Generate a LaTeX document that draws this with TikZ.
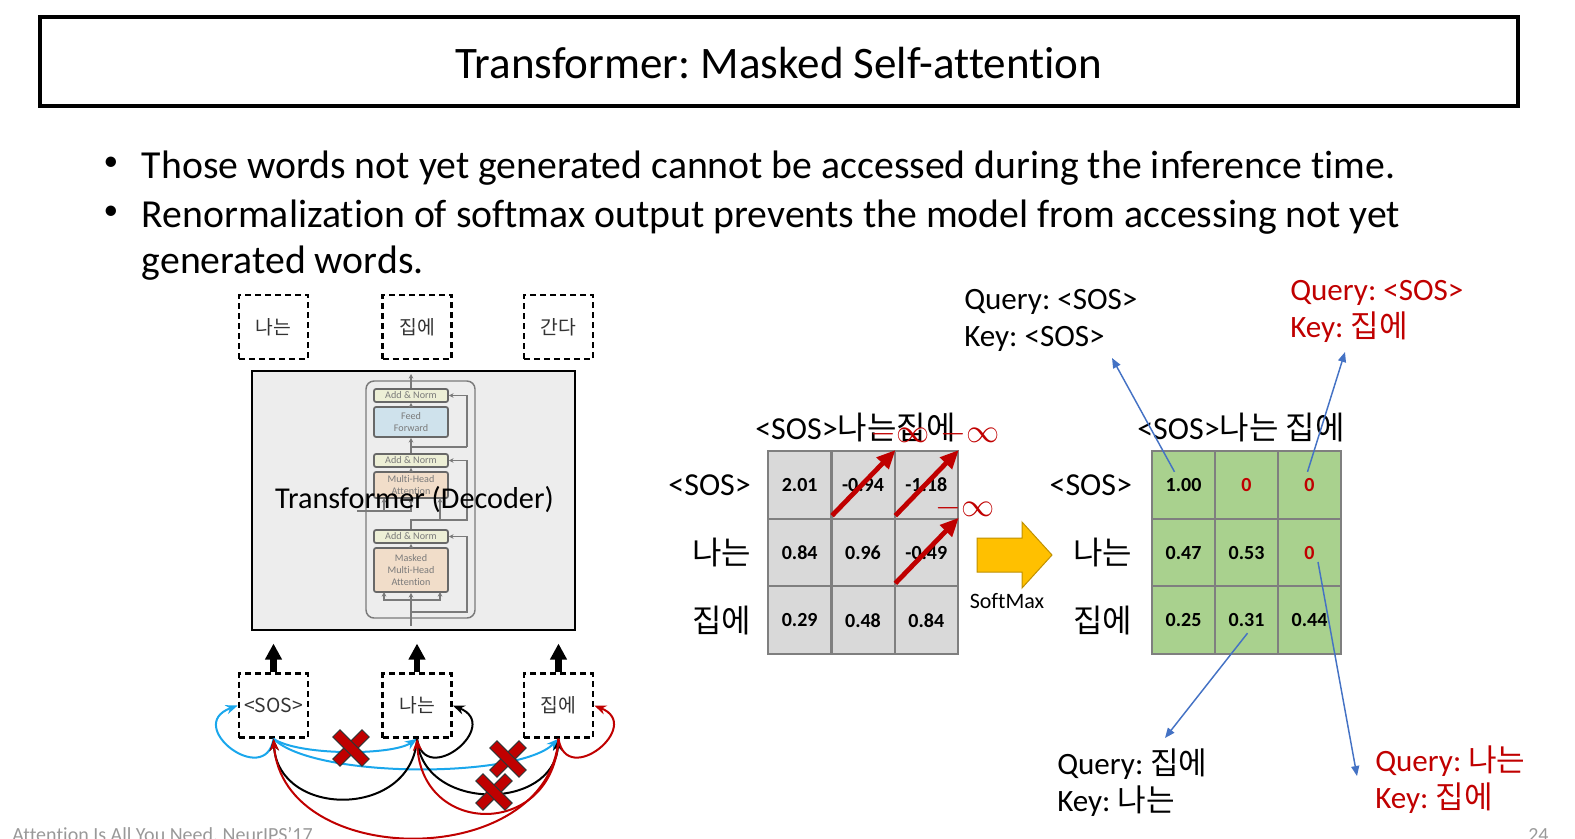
\documentclass[tikz,border=0pt]{standalone}
\usepackage{fontspec}
\setmainfont{Carlito}[Ligatures={TeX,NoCommon}]
\newfontfamily\kr{Noto Sans CJK KR}
\usetikzlibrary{arrows.meta}
\definecolor{maskred}{HTML}{C00000}
\definecolor{linkblue}{HTML}{4472C4}
\definecolor{loopblue}{HTML}{1AA7EC}
\definecolor{cellgray}{HTML}{D9D9D9}
\definecolor{cellgreen}{HTML}{A9D18E}
\definecolor{gridgray}{HTML}{7F7F7F}
\definecolor{softyellow}{HTML}{FFC000}
\definecolor{decgray}{HTML}{EDEDED}
\definecolor{sketchgray}{HTML}{7A7A7A}
\definecolor{normfill}{HTML}{EDEFD6}
\definecolor{fffill}{HTML}{CFE2EC}
\definecolor{attfill}{HTML}{F1DDC9}
\definecolor{footgray}{HTML}{999999}
\newcommand{\fsz}[2]{\fontsize{#1}{#2}\selectfont}
\frenchspacing

\begin{document}
\begin{tikzpicture}[x=0.75pt, y=-0.75pt,
  wordbox/.style={draw, line width=1.9pt, dash pattern=on 4.5pt off 3pt,
    minimum width=51.75pt, minimum height=48pt, inner sep=0pt,
    text=black!80, font=\kr\fsz{14.5}{16}},
  scorecell/.style={draw=gridgray, line width=1.5pt, minimum width=47.25pt,
    minimum height=50.75pt, inner sep=0pt, font=\bfseries\fsz{15}{18}},
  labeltext/.style={inner sep=0pt, font=\fsz{24}{28}},
  annot/.style={inner sep=0pt, align=left, font=\fsz{23.3}{27.75}},
  inftext/.style={inner sep=0pt, text=maskred, font=\fsz{25}{25}},
  linkarrow/.style={draw=linkblue, line width=1.1pt, -{Triangle[length=7.5pt,width=6pt]}},
  maskarrow/.style={draw=maskred, line width=3.6pt, -{Triangle[length=14pt,width=12pt]}},
  bigarrow/.style={line width=5pt, -{Triangle[length=12pt,width=12pt]}, shorten >=9.4pt},
  qsos/.style={draw=loopblue, line width=1.5pt, -{Stealth[length=9pt,width=7pt]}},
  qna/.style={draw=black, line width=1.5pt, -{Stealth[length=9pt,width=7pt]}},
  qjib/.style={draw=maskred, line width=1.5pt, -{Stealth[length=9pt,width=7pt]}},
  nobar/.style={draw=black!80, line width=0.75pt, fill=maskred, minimum width=31pt,
    minimum height=7.5pt, inner sep=0pt},
  layerline/.style={draw=sketchgray, line width=1.1pt},
  layerarrow/.style={layerline, -{Stealth[length=3.5pt,width=3.5pt]}},
  sketchbox/.style={draw=sketchgray!85!black, line width=1.3pt, rounded corners=1.5pt,
    minimum width=55.5pt, inner sep=0pt, align=center, text=sketchgray,
    font=\fsz{7.6}{9.2}},
  addnorm/.style={sketchbox, fill=normfill, minimum height=9.75pt}
]
  \useasboundingbox (0,0) rectangle (1575,839);

  % Title
  \draw[line width=3pt] (40,17) rectangle (1518,106);
  \node[anchor=base, inner sep=0pt, font=\fsz{33.8}{40}] (title) at (779,78.5)
    {Transformer: Masked Self-attention};

  % Bullets
  \node[inner sep=0pt, font=\fsz{22}{24}] (dot1) at (111,164) {\textbullet};
  \node[anchor=base west, inner sep=0pt, font=\fsz{29.8}{34}] (b1) at (141.6,178)
    {Those words not yet generated cannot be accessed during the inference time.};
  \node[inner sep=0pt, font=\fsz{22}{24}] (dot2) at (111,213) {\textbullet};
  \node[anchor=base west, inner sep=0pt, font=\fsz{29.8}{34}] (b2) at (141.6,227)
    {Renormalization of softmax output prevents the model from accessing not yet};
  \node[anchor=base west, inner sep=0pt, font=\fsz{29.8}{34}] (b2c) at (141.6,273)
    {generated words.};

  % Output words
  \node[wordbox] (out-na) at (273.5,327) {나는};
  \node[wordbox] (out-jib) at (417,327) {집에};
  \node[wordbox] (out-gan) at (558.5,327) {간다};

  % Decoder block
  \node[draw, line width=1.5pt, fill=decgray, minimum width=242.25pt,
    minimum height=194.25pt, inner sep=0pt] (dec) at (413.5,500.5) {};
  \draw[layerline, rounded corners=6pt] (366,381) rectangle (475,618);
  \node[addnorm] (an1) at (411,395.5) {Add \& Norm};
  \node[sketchbox, fill=fffill, minimum height=22.5pt] (ff) at (411,422) {Feed\\Forward};
  \node[addnorm] (an2) at (411,460.5) {Add \& Norm};
  \node[sketchbox, fill=attfill, minimum height=19.5pt] (mha) at (411,485) {Multi-Head\\Attention};
  \node[addnorm] (an3) at (411,536.5) {Add \& Norm};
  \node[sketchbox, fill=attfill, minimum height=33pt] (mmha) at (411,570)
    {Masked\\Multi-Head\\Attention};
  \coordinate (din) at (411,626);
  \coordinate (dout) at (411,374);
  \draw[layerarrow] (din) -- (mmha);
  \draw[layerarrow] (411,600) -| (384,592);
  \draw[layerarrow] (411,600) -| (440,592);
  \draw[layerarrow] (411,612) -- (467,612) |- (an3.east);
  \draw[layerarrow] (mmha) -- (an3);
  \draw[layerarrow] (an3.north) |- (467,520) |- (an2.east);
  \draw[layerarrow] (440,520) -- (440,498);
  \draw[layerarrow] (357,511) -| (384,498);
  \draw[layerarrow] (384,511) -| (411,498);
  \draw[layerarrow] (mha) -- (an2);
  \draw[layerarrow] (an2) -- (ff);
  \draw[layerline] (411,447) -- (467,447);
  \draw[layerarrow] (467,447) |- (an1.east);
  \draw[layerarrow] (ff) -- (an1);
  \draw[layerarrow] (an1) -- (dout);
  \node[inner sep=0pt, font=\fsz{22.7}{26}] (declabel) at (414.5,500) {Transformer (Decoder)};

  % Input words
  \node[wordbox] (in-sos) at (273.5,705.5) {<SOS>};
  \node[wordbox] (in-na) at (417,705.5) {나는};
  \node[wordbox] (in-jib) at (558.5,705.5) {집에};
  \foreach \w in {in-sos,in-na,in-jib}
    \draw[bigarrow] (\w) -- (\w |- dec.south);

  % Attention links of <SOS>
  \draw[qsos] (in-sos.south) .. controls +(-8,50) and +(-55,20) .. (in-sos.west);
  \draw[qsos] (in-sos.south) .. controls +(25,17) and +(-25,17) .. (in-na.south);
  \draw[qsos] (in-sos.south) .. controls +(40,40) and +(-40,40) .. (in-jib.south);
  % Attention links of 나는
  \draw[qna] (in-na.south) .. controls +(8,50) and +(50,20) .. (in-na.east);
  \draw[qna] (in-na.south) .. controls +(-5,80) and +(5,80) .. (in-sos.south);
  \draw[qna] (in-na.south) .. controls +(5,73) and +(-5,73) .. (in-jib.south);
  % Attention links of 집에
  \draw[qjib] (in-jib.south) .. controls +(8,50) and +(50,20) .. (in-jib.east);
  \draw[qjib] (in-jib.south) .. controls +(-5,99) and +(5,99) .. (in-na.south);
  \draw[qjib] (in-jib.south) .. controls +(-10,132) and +(10,132) .. (in-sos.south);

  % Blocked links
  \foreach \i/\cx/\cy in {1/351/748, 2/508/759, 3/494/792} {
    \node[nobar, rotate=45] (no\i a) at (\cx,\cy) {};
    \node[nobar, rotate=-45] (no\i b) at (\cx,\cy) {};
  }

  % Score matrix before softmax
  \foreach \r/\c/\v in {1/1/2.01, 1/2/-0.94, 1/3/-1.18, 2/1/0.84, 2/2/0.96, 2/3/-0.49,
      3/1/0.29, 3/2/0.48, 3/3/0.84}
    \node[scorecell, fill=cellgray] (L-\r-\c) at ({768+63.33*(\c-0.5)},{451+67.67*(\r-0.5)}) {\v};
  % Score matrix after softmax
  \foreach \r/\c/\v/\tc in {1/1/1.00/black, 1/2/0/maskred, 1/3/0/maskred, 2/1/0.47/black,
      2/2/0.53/black, 2/3/0/maskred, 3/1/0.25/black, 3/2/0.31/black, 3/3/0.44/black}
    \node[scorecell, fill=cellgreen, text=\tc] (R-\r-\c) at ({1152+63*(\c-0.5)},{451+67.67*(\r-0.5)}) {\v};

  % Row and column labels
  \foreach \r/\w in {1/{<SOS>}, 2/{\kr 나는}, 3/{\kr 집에}} {
    \node[labeltext, anchor=east] (Lrow-\r) at ([xshift=-12pt]L-\r-1.west) {\w};
    \node[labeltext, anchor=east] (Rrow-\r) at ([xshift=-14pt]R-\r-1.west) {\w};
  }
  \node[labeltext, anchor=west] (Lhead) at (755,428) {<SOS>\kr 나는집에};
  \node[labeltext, anchor=west] (Rhead) at (1137,428) {<SOS>\kr 나는 집에};

  % Masking with minus infinity
  \node[inftext] (inf-1) at (900,434) {$-\infty$};
  \node[inftext] (inf-2) at (970,434) {$-\infty$};
  \node[inftext] (inf-3) at (965,508) {$-\infty$};
  \foreach \cell in {L-1-2, L-1-3, L-2-3}
    \draw[maskarrow] ([shift={(1.5,-4)}]\cell.south west) -- (\cell.north east);

  % SoftMax arrow
  \draw[fill=softyellow, draw=softyellow!75!black, line width=0.75pt]
    (977,538) -- (1022,538) -- (1022,522) -- (1052,555) -- (1022,588) -- (1022,572)
    -- (977,572) -- cycle;
  \node[inner sep=0pt, font=\fsz{16.5}{18}] (smax) at (1007,601) {SoftMax};

  % Query / key notes
  \node[annot, anchor=west] (qa) at (964,320) {Query: <SOS>\\Key: <SOS>};
  \node[annot, anchor=west, text=maskred] (qb) at (1290,311) {Query: <SOS>\\Key: {\kr 집에}};
  \node[annot, anchor=west] (qc) at (1057,783) {Query: {\kr 집에}\\Key: {\kr 나는}};
  \node[annot, anchor=west, text=maskred] (qd) at (1375,780) {Query: {\kr 나는}\\Key: {\kr 집에}};
  \coordinate (qa-tip) at (1112,358);
  \coordinate (qb-tip) at (1345,352);
  \coordinate (qc-tip) at (1165,738);
  \coordinate (qd-tip) at (1357,776);
  \draw[linkarrow] ([shift={(-9,-13)}]R-1-1.center) -- (qa-tip);
  \draw[linkarrow] ([shift={(-2,-13)}]R-1-3.center) -- (qb-tip);
  \draw[linkarrow] ([shift={(1,13)}]R-3-2.center) -- (qc-tip);
  \draw[linkarrow] ([shift={(8.5,9.5)}]R-2-3.center) -- (qd-tip);

  % Footer
  \node[anchor=base west, inner sep=0pt, text=footgray, font=\fsz{15}{18}] (cite) at (12,841)
    {Attention Is All You Need, NeurIPS'17};
  \node[anchor=base west, inner sep=0pt, text=footgray, font=\fsz{15}{18}] (pageno) at (1528,841) {24};
\end{tikzpicture}
\end{document}
